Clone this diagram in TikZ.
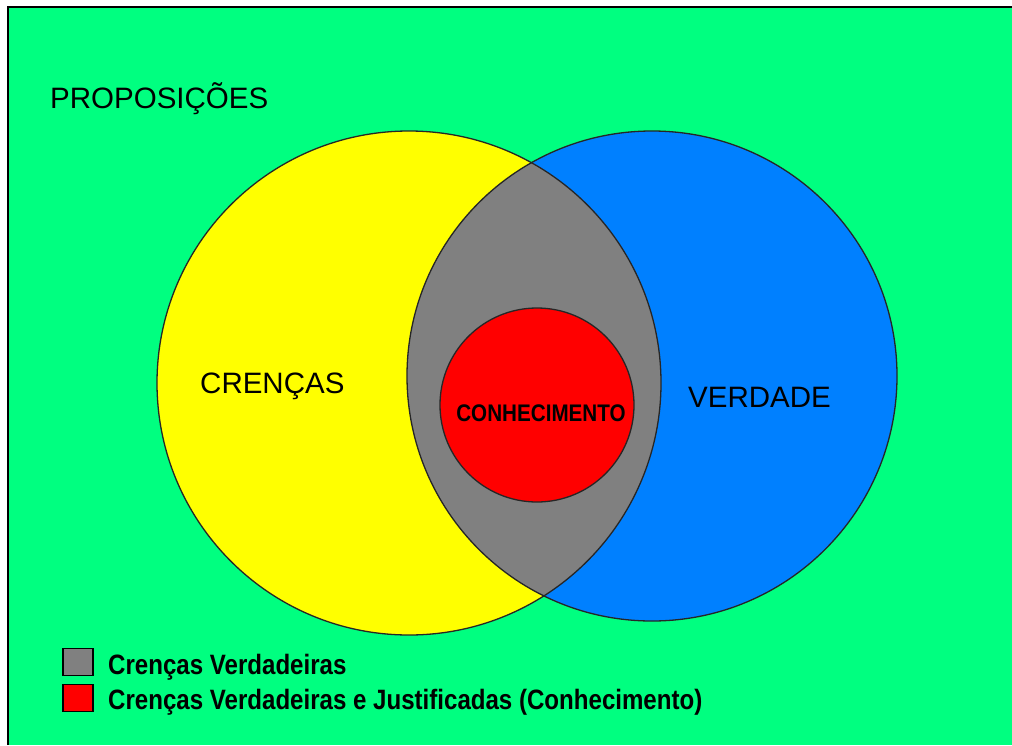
\documentclass[tikz,border=0pt]{standalone}
\usepackage{fontspec}
\setmainfont{Liberation Sans}
\newfontfamily\narrowfont[FakeStretch=0.86]{Liberation Sans}
\definecolor{fundo}{RGB}{0,255,128}
\definecolor{amarelo}{RGB}{255,255,0}
\definecolor{azul}{RGB}{0,128,255}
\definecolor{cinza}{RGB}{128,128,128}
\definecolor{vermelho}{RGB}{255,0,0}
\tikzset{
  rotulo/.style = {inner sep=0pt, font=\fontsize{29.5}{30}\selectfont},
  rotulo_b/.style = {inner sep=0pt, font=\narrowfont\bfseries\fontsize{24}{25}\selectfont},
  legenda/.style = {inner sep=0pt, font=\narrowfont\bfseries\fontsize{28}{29}\selectfont},
  caixa/.style = {draw=black, line width=1.2pt, minimum width=30pt,
    minimum height=27pt, inner sep=0pt},
  contorno/.style = {draw=black!85, line width=1.3pt}
}
\begin{document}
\begin{tikzpicture}[x=1pt,y=-1pt]
  \useasboundingbox (0,0) rectangle (1012,745);
  \fill[white] (0,0) rectangle (1012,745);
  \fill[fundo] (8,7) rectangle (1012,745);
  \draw[line width=1.2pt] (8,745) -- (8,7) -- (1012,7);
  % centros
  \coordinate (cA) at (409,383);
  \coordinate (cB) at (652,376);
  \coordinate (cC) at (537,405);
  \fill[amarelo] (cA) circle[radius=252pt];
  \fill[azul] (cB) circle[radius=245pt];
  \begin{scope}
    \clip (cA) circle[radius=252pt];
    \fill[cinza] (cB) circle[radius=245pt];
  \end{scope}
  \draw[contorno] (cA) circle[radius=252pt];
  \draw[contorno] (cB) circle[radius=245pt];
  \draw[contorno, fill=vermelho] (cC) circle[radius=97pt];
  % textos
  \node[rotulo, anchor=base west] (prop) at (50,108) {PROPOSIÇÕES};
  \node[rotulo, anchor=base west] (cren) at (200,393) {CRENÇAS};
  \node[rotulo, anchor=base west] (verd) at (688,407) {VERDADE};
  \node[rotulo_b, anchor=base] (conh) at (541,421) {CONHECIMENTO};
  % legenda
  \node[caixa, fill=cinza] (lg1) at (78,662) {};
  \node[caixa, fill=vermelho] (lg2) at (78,698) {};
  \node[legenda, anchor=base west] (tx1) at (108,674) {Crenças Verdadeiras};
  \node[legenda, anchor=base west] (tx2) at (108,709) {Crenças Verdadeiras e Justificadas (Conhecimento)};
\end{tikzpicture}
\end{document}
